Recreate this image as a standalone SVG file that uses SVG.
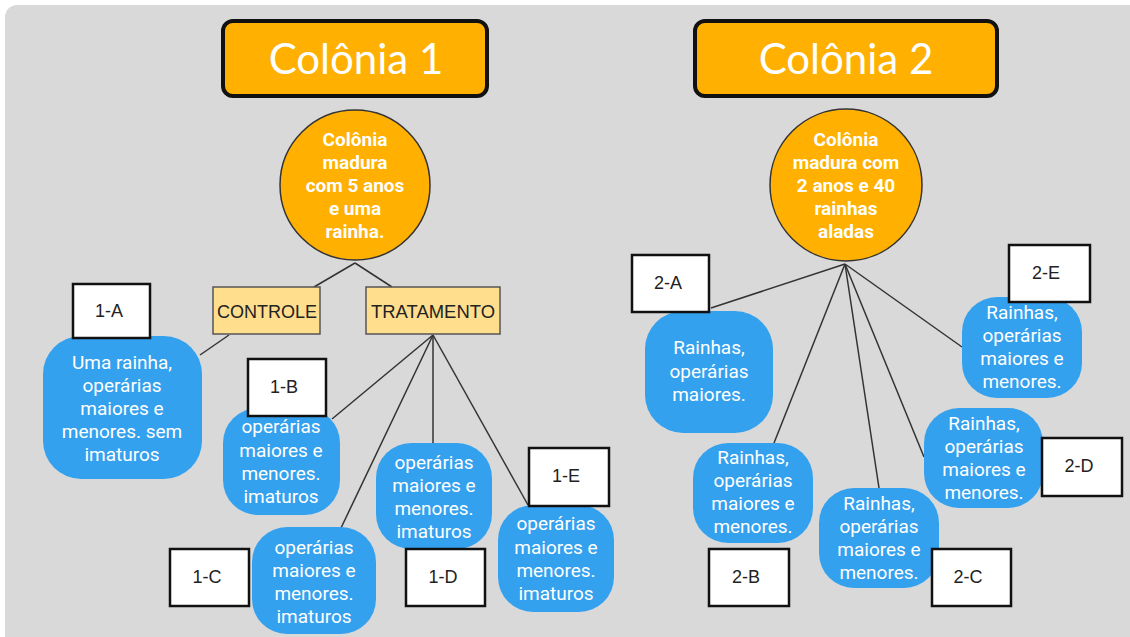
<svg xmlns="http://www.w3.org/2000/svg" width="1130" height="637" viewBox="0 0 1130 637">
<defs>
<style>
.title{fill:#FFB000;stroke:#111;stroke-width:4}
.ttext{font-family:Lato,"Open Sans",sans-serif;font-size:42px;fill:#fff;text-anchor:middle}
.circ{fill:#FFB000;stroke:#333;stroke-width:1.5}
.ctext{font-family:Roboto,"Open Sans",sans-serif;font-size:19px;font-weight:bold;fill:#fff;text-anchor:middle}
.grp{fill:#FFDE8E;stroke:#555;stroke-width:1.5}
.gtext{font-family:"Liberation Sans",Arial,sans-serif;font-size:18px;fill:#222;text-anchor:middle}
.blob{fill:#34A1EE}
.btext{font-family:Roboto,"Open Sans",sans-serif;font-size:19px;fill:#fff;text-anchor:middle}
.lab{fill:#fff;stroke:#111;stroke-width:2.5}
.ltext{font-family:"Liberation Sans",Arial,sans-serif;font-size:18px;fill:#222;text-anchor:middle}
.con{stroke:#333;stroke-width:1.5;fill:none}
</style>
</defs>
<rect x="0" y="0" width="1130" height="637" fill="#fff"/>
<rect x="5" y="5" width="1140" height="650" rx="12" fill="#D9D9D9"/>

<g id="connectors">
<line class="con" x1="355" y1="263" x2="314" y2="287"/>
<line class="con" x1="355" y1="263" x2="392" y2="287"/>
<line class="con" x1="229" y1="335" x2="200" y2="355"/>
<line class="con" x1="433" y1="335" x2="332" y2="419"/>
<line class="con" x1="433" y1="335" x2="341" y2="528"/>
<line class="con" x1="433" y1="335" x2="433" y2="444"/>
<line class="con" x1="433" y1="335" x2="528" y2="505"/>
<line class="con" x1="845" y1="264" x2="711" y2="308"/>
<line class="con" x1="845" y1="264" x2="774" y2="443"/>
<line class="con" x1="845" y1="264" x2="879" y2="488"/>
<line class="con" x1="845" y1="264" x2="924" y2="457"/>
<line class="con" x1="845" y1="264" x2="962" y2="347"/>
</g>

<g id="title1">
<rect class="title" x="223" y="21" width="264" height="75" rx="10"/>
<text class="ttext" x="356" y="74">Colônia 1</text>
</g>
<g id="title2">
<rect class="title" x="695" y="21" width="302" height="75" rx="10"/>
<text class="ttext" x="846" y="74">Colônia 2</text>
</g>

<g id="colony1">
<circle class="circ" cx="355" cy="185" r="75"/>
<text class="ctext" x="355" y="146">Colônia</text>
<text class="ctext" x="355" y="169">madura</text>
<text class="ctext" x="355" y="192">com 5 anos</text>
<text class="ctext" x="355" y="215">e uma</text>
<text class="ctext" x="355" y="238">rainha.</text>
</g>
<g id="colony2">
<circle class="circ" cx="846" cy="185" r="76"/>
<text class="ctext" x="846" y="146">Colônia</text>
<text class="ctext" x="846" y="169">madura com</text>
<text class="ctext" x="846" y="192">2 anos e 40</text>
<text class="ctext" x="846" y="215">rainhas</text>
<text class="ctext" x="846" y="238">aladas</text>
</g>

<g id="controle">
<rect class="grp" x="213" y="287" width="107" height="47"/>
<text class="gtext" x="267" y="318" textLength="100" lengthAdjust="spacingAndGlyphs">CONTROLE</text>
</g>
<g id="tratamento">
<rect class="grp" x="366" y="287" width="134" height="47"/>
<text class="gtext" x="433" y="318" textLength="124" lengthAdjust="spacingAndGlyphs">TRATAMENTO</text>
</g>

<g id="blob-1A">
<rect class="blob" x="43" y="336" width="159" height="143" rx="38"/>
<text class="btext" x="122" y="369">Uma rainha,</text>
<text class="btext" x="122" y="392">operárias</text>
<text class="btext" x="122" y="415">maiores e</text>
<text class="btext" x="122" y="438">menores. sem</text>
<text class="btext" x="122" y="461">imaturos</text>
</g>
<g id="blob-1B">
<rect class="blob" x="223" y="408" width="117" height="107" rx="35"/>
<text class="btext" x="281" y="433">operárias</text>
<text class="btext" x="281" y="457">maiores e</text>
<text class="btext" x="281" y="480">menores.</text>
<text class="btext" x="281" y="503">imaturos</text>
</g>
<g id="blob-1C">
<rect class="blob" x="252" y="527" width="124" height="107" rx="35"/>
<text class="btext" x="314" y="554">operárias</text>
<text class="btext" x="314" y="577">maiores e</text>
<text class="btext" x="314" y="600">menores.</text>
<text class="btext" x="314" y="623">imaturos</text>
</g>
<g id="blob-1D">
<rect class="blob" x="376" y="443" width="116" height="106" rx="35"/>
<text class="btext" x="434" y="469">operárias</text>
<text class="btext" x="434" y="492">maiores e</text>
<text class="btext" x="434" y="515">menores.</text>
<text class="btext" x="434" y="538">imaturos</text>
</g>
<g id="blob-1E">
<rect class="blob" x="498" y="505" width="116" height="107" rx="35"/>
<text class="btext" x="556" y="530">operárias</text>
<text class="btext" x="556" y="554">maiores e</text>
<text class="btext" x="556" y="577">menores.</text>
<text class="btext" x="556" y="600">imaturos</text>
</g>

<g id="blob-2A">
<rect class="blob" x="645" y="311" width="128" height="122" rx="38"/>
<text class="btext" x="709" y="354">Rainhas,</text>
<text class="btext" x="709" y="378">operárias</text>
<text class="btext" x="709" y="401">maiores.</text>
</g>
<g id="blob-2B">
<rect class="blob" x="693" y="443" width="120" height="100" rx="35"/>
<text class="btext" x="753" y="464">Rainhas,</text>
<text class="btext" x="753" y="487">operárias</text>
<text class="btext" x="753" y="510">maiores e</text>
<text class="btext" x="753" y="533">menores.</text>
</g>
<g id="blob-2C">
<rect class="blob" x="819" y="488" width="120" height="100" rx="35"/>
<text class="btext" x="879" y="510">Rainhas,</text>
<text class="btext" x="879" y="533">operárias</text>
<text class="btext" x="879" y="556">maiores e</text>
<text class="btext" x="879" y="579">menores.</text>
</g>
<g id="blob-2D">
<rect class="blob" x="924" y="408" width="119" height="100" rx="35"/>
<text class="btext" x="984" y="430">Rainhas,</text>
<text class="btext" x="984" y="453">operárias</text>
<text class="btext" x="984" y="476">maiores e</text>
<text class="btext" x="984" y="499">menores.</text>
</g>
<g id="blob-2E">
<rect class="blob" x="962" y="297" width="120" height="101" rx="35"/>
<text class="btext" x="1022" y="319">Rainhas,</text>
<text class="btext" x="1022" y="342">operárias</text>
<text class="btext" x="1022" y="365">maiores e</text>
<text class="btext" x="1022" y="388">menores.</text>
</g>

<g id="label-1A"><rect class="lab" x="73" y="284" width="77" height="54"/><text class="ltext" x="109" y="317">1-A</text></g>
<g id="label-1B"><rect class="lab" x="248" y="359" width="78" height="57"/><text class="ltext" x="284" y="393">1-B</text></g>
<g id="label-1C"><rect class="lab" x="170" y="549" width="79" height="57"/><text class="ltext" x="207" y="583">1-C</text></g>
<g id="label-1D"><rect class="lab" x="406" y="549" width="79" height="57"/><text class="ltext" x="443" y="583">1-D</text></g>
<g id="label-1E"><rect class="lab" x="529" y="448" width="80" height="58"/><text class="ltext" x="566" y="482">1-E</text></g>
<g id="label-2A"><rect class="lab" x="632" y="255" width="77" height="57"/><text class="ltext" x="668" y="289">2-A</text></g>
<g id="label-2B"><rect class="lab" x="709" y="549" width="80" height="57"/><text class="ltext" x="746" y="583">2-B</text></g>
<g id="label-2C"><rect class="lab" x="932" y="549" width="79" height="57"/><text class="ltext" x="968" y="583">2-C</text></g>
<g id="label-2D"><rect class="lab" x="1042" y="438" width="80" height="58"/><text class="ltext" x="1079" y="472">2-D</text></g>
<g id="label-2E"><rect class="lab" x="1009" y="245" width="81" height="57"/><text class="ltext" x="1046" y="279">2-E</text></g>
</svg>
